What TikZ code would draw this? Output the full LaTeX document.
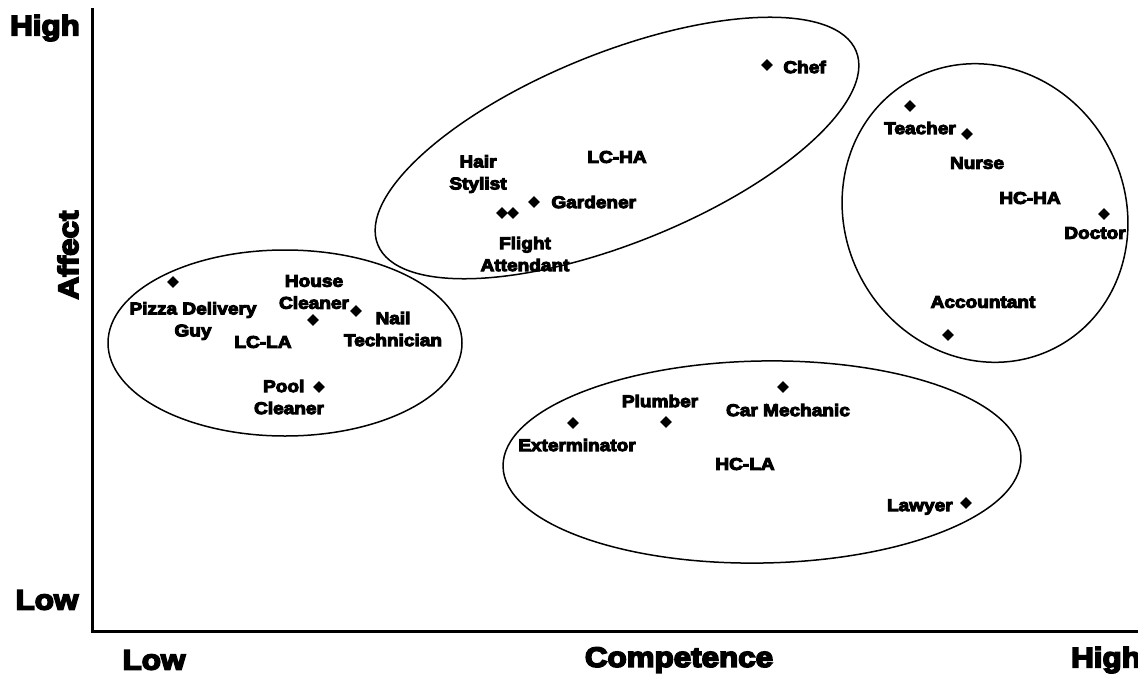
\documentclass[tikz,border=0pt]{standalone}
\usepackage{fontspec}
\newfontfamily\heavy{Liberation Sans}[UprightFont={* Bold}, UprightFeatures={FakeBold=6}, FakeStretch=1.12]
\usetikzlibrary{shapes.geometric}
\begin{document}
\begin{tikzpicture}[x=0.5pt,y=-0.5pt,
  pt/.style={diamond, fill=black, inner sep=0pt, minimum size=6pt},
  lbl/.style={font=\heavy\fontsize{8.5}{11}\selectfont, align=center, inner sep=0pt},
  axlbl/.style={font=\heavy\fontsize{14}{16}\selectfont, inner sep=0pt},
  grp/.style={draw, line width=0.75pt},
  axisline/.style={line width=1.5pt}]
\useasboundingbox (0,0) rectangle (1138,674);

% axes
\coordinate (ytop) at (92,8);
\coordinate (origin) at (92,631);
\coordinate (xend) at (1138,631);
\draw[axisline] (ytop) -- (origin) -- (xend);

\node[axlbl] (yhigh) at (45,28) {High};
\node[axlbl] (ylow) at (47,600) {Low};
\node[axlbl, rotate=90] (ylabel) at (68,255) {Affect};
\node[axlbl] (xlow) at (154,660) {Low};
\node[axlbl] (xlabel) at (679,660) {Competence};
\node[axlbl] (xhigh) at (1106,660) {High};

% groups
\draw[grp] (285,343) ellipse [x radius=177, y radius=93];
\draw[grp, rotate around={22:(617,148)}] (617,148) ellipse [x radius=258, y radius=95];
\draw[grp, rotate around={29:(985,213)}] (985,213) ellipse [x radius=140, y radius=152];
\draw[grp, rotate around={1:(762,462)}] (762,462) ellipse [x radius=259, y radius=101];

% LC-LA
\node[pt] (pizzapt) at (173,282) {};
\node[lbl] (pizza) at (193,321) {Pizza Delivery\\Guy};
\node[lbl] (house) at (314,292) {House\\Cleaner};
\node[pt] (housept) at (313,320) {};
\node[pt] (nailpt) at (356,311) {};
\node[lbl] (nail) at (393,329) {Nail\\Technician};
\node[lbl] (lcla) at (263,342) {LC-LA};
\node[lbl] (pool) at (289,397) {Pool\phantom{x}\\Cleaner};
\node[pt] (poolpt) at (319,387) {};

% LC-HA
\node[pt] (chefpt) at (767,65) {};
\node[lbl, anchor=west] (chef) at (783,67) {Chef};
\node[lbl] (lcha) at (617,157) {LC-HA};
\node[lbl] (hair) at (478,174) {Hair\\Stylist};
\node[pt] (gardenerpt) at (534,202) {};
\node[lbl, anchor=west] (gardener) at (551,202) {Gardener};
\node[pt] (stylistpt) at (502,213) {};
\node[pt] (flightpt) at (513,213) {};
\node[lbl] (flight) at (525,254) {Flight\\Attendant};

% HC-HA
\node[pt] (teacherpt) at (910,106) {};
\node[lbl] (teacher) at (920,128) {Teacher};
\node[pt] (nursept) at (967,134) {};
\node[lbl] (nurse) at (977,163) {Nurse};
\node[lbl] (hcha) at (1030,198) {HC-HA};
\node[pt] (doctorpt) at (1104,214) {};
\node[lbl] (doctor) at (1095,233) {Doctor};
\node[lbl] (accountant) at (983,302) {Accountant};
\node[pt] (accountantpt) at (948,335) {};

% HC-LA
\node[pt] (mechanicpt) at (783,387) {};
\node[lbl] (mechanic) at (788,410) {Car Mechanic};
\node[lbl] (plumber) at (660,401) {Plumber};
\node[pt] (plumberpt) at (666,422) {};
\node[pt] (exterminatorpt) at (573,423) {};
\node[lbl] (exterminator) at (577,445) {Exterminator};
\node[lbl] (hcla) at (745,464) {HC-LA};
\node[lbl, anchor=east] (lawyer) at (953,507) {Lawyer};
\node[pt] (lawyerpt) at (966,503) {};
\end{tikzpicture}
\end{document}
